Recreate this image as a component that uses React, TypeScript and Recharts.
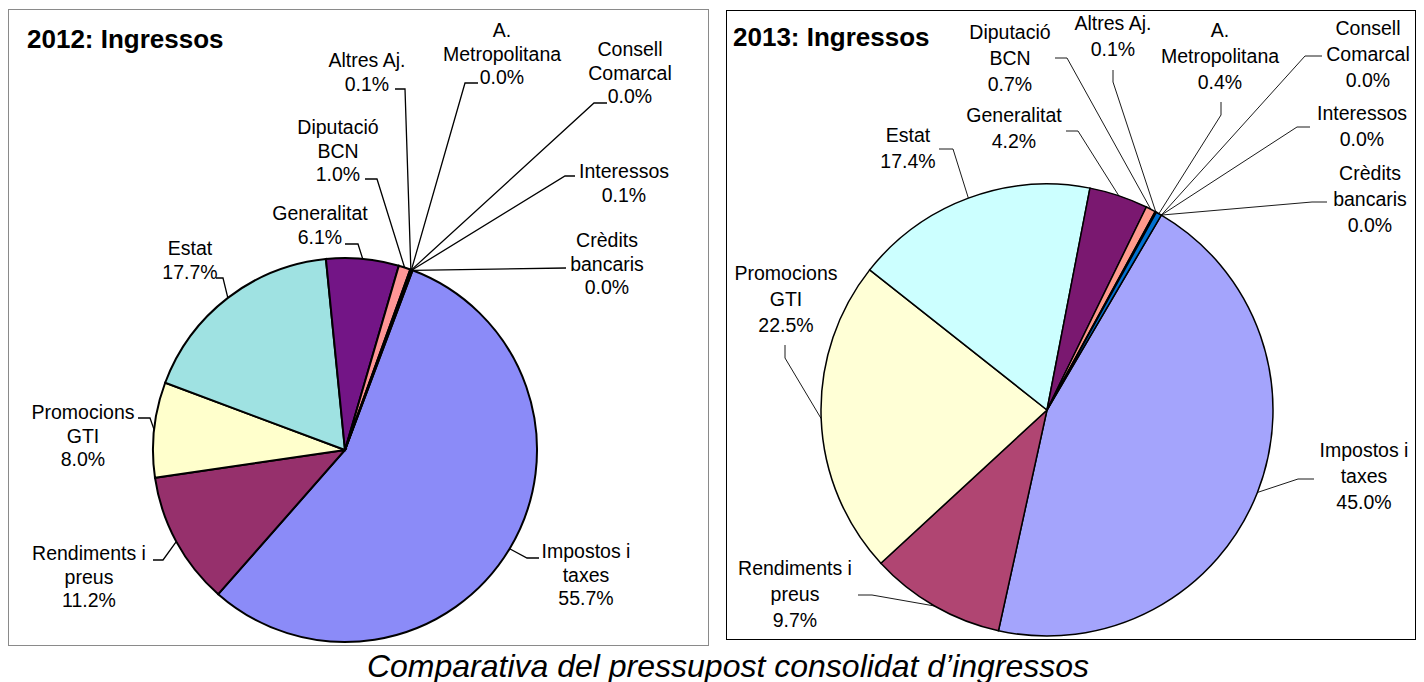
import React from 'react';
import { PieChart, Pie, Cell } from 'recharts';

// ---- Data -------------------------------------------------------------
const categories = [
  'Impostos i taxes',
  'Rendiments i preus',
  'Promocions GTI',
  'Estat',
  'Generalitat',
  'Diputació BCN',
  'Altres Aj.',
  'A. Metropolitana',
  'Consell Comarcal',
  'Interessos',
  'Crèdits bancaris',
];

// How each category name is broken into lines in the labels
const labelLines: string[][] = [
  ['Impostos i', 'taxes'],
  ['Rendiments i', 'preus'],
  ['Promocions', 'GTI'],
  ['Estat'],
  ['Generalitat'],
  ['Diputació', 'BCN'],
  ['Altres Aj.'],
  ['A.', 'Metropolitana'],
  ['Consell', 'Comarcal'],
  ['Interessos'],
  ['Crèdits', 'bancaris'],
];

const values2012 = [55.7, 11.2, 8.0, 17.7, 6.1, 1.0, 0.1, 0.0, 0.0, 0.1, 0.0];
const values2013 = [45.0, 9.7, 22.5, 17.4, 4.2, 0.7, 0.1, 0.4, 0.0, 0.0, 0.0];

const colors2012 = ['#8B8BF8', '#96306C', '#FFFFCC', '#9FE2E2', '#731586', '#FF9696', '#000080', '#0066CC', '#FF8080', '#0000FF', '#00CCFF'];
const colors2013 = ['#A4A4FC', '#B04572', '#FFFFD6', '#CCFFFF', '#7A1870', '#FF9A8C', '#000080', '#0070D0', '#FF8080', '#0000FF', '#00CCFF'];

const data2012 = categories.map((name, i) => ({ name, value: values2012[i] }));
const data2013 = categories.map((name, i) => ({ name, value: values2013[i] }));

// ---- Label layout (manually placed labels, as in the original) ----------
type LabelPos = { tx: number; ty: number; knee: [number, number]; end: [number, number] };

const layout2012: LabelPos[] = [
  { tx: 586, ty: 551, knee: [527, 558], end: [539, 558] },
  { tx: 89, ty: 553, knee: [163, 560], end: [153, 560] },
  { tx: 83, ty: 412, knee: [150, 418], end: [138, 418] },
  { tx: 190, ty: 248, knee: [223, 278], end: [216, 278] },
  { tx: 320, ty: 213, knee: [358, 244], end: [345, 244] },
  { tx: 338, ty: 127, knee: [377, 179], end: [365, 179] },
  { tx: 367, ty: 60, knee: [405, 89], end: [395, 89] },
  { tx: 502, ty: 30, knee: [465, 83], end: [478, 83] },
  { tx: 630, ty: 49, knee: [594, 103], end: [607, 103] },
  { tx: 624, ty: 171, knee: [565, 176], end: [575, 176] },
  { tx: 607, ty: 240, knee: [566, 268], end: [566, 268] },
];

const layout2013: LabelPos[] = [
  { tx: 1364, ty: 450, knee: [1298, 479], end: [1314, 479] },
  { tx: 795, ty: 568, knee: [872, 595], end: [858, 595] },
  { tx: 786, ty: 273, knee: [785, 358], end: [785, 345] },
  { tx: 908, ty: 135, knee: [953, 149], end: [939, 149] },
  { tx: 1014, ty: 115, knee: [1078, 131], end: [1066, 131] },
  { tx: 1010, ty: 32, knee: [1067, 58], end: [1055, 58] },
  { tx: 1113, ty: 23, knee: [1113, 82], end: [1113, 70] },
  { tx: 1220, ty: 30, knee: [1221, 115], end: [1221, 102] },
  { tx: 1368, ty: 28, knee: [1305, 56], end: [1322, 56] },
  { tx: 1362, ty: 113, knee: [1297, 127], end: [1310, 127] },
  { tx: 1370, ty: 173, knee: [1312, 202], end: [1327, 202] },
];

const FONT = '"Liberation Sans", Arial, Helvetica, sans-serif';

const makeLabel = (layout: LabelPos[], lineGap: number, fontSize: number, lineWidth: number) => (props: any) => {
  const { cx, cy, midAngle, outerRadius, index, value } = props;
  const L = layout[index];
  if (!L) return null;
  const rad = (-midAngle * Math.PI) / 180;
  const sx = cx + outerRadius * Math.cos(rad);
  const sy = cy + outerRadius * Math.sin(rad);
  const lines = [...labelLines[index], `${Number(value).toFixed(1)}%`];
  return (
    <g>
      <polyline
        points={`${sx},${sy} ${L.knee[0]},${L.knee[1]} ${L.end[0]},${L.end[1]}`}
        fill="none"
        stroke="#000"
        strokeWidth={lineWidth}
      />
      <text
        x={L.tx}
        y={L.ty + fontSize * 0.36}
        textAnchor="middle"
        fontSize={fontSize}
        fontFamily={FONT}
        fill="#000"
      >
        {lines.map((t, k) => (
          <tspan key={k} x={L.tx} dy={k === 0 ? 0 : lineGap}>
            {t}
          </tspan>
        ))}
      </text>
    </g>
  );
};

export default function App() {
  return (
    <div
      style={{
        position: 'absolute',
        left: 0,
        top: 0,
        width: 1424,
        height: 682,
        background: '#fff',
        fontFamily: FONT,
      }}
    >
      {/* frames */}
      <div
        style={{
          position: 'absolute',
          left: 8,
          top: 9,
          width: 701,
          height: 637,
          border: '1px solid #8a8a8a',
          boxSizing: 'border-box',
        }}
      />
      <div
        style={{
          position: 'absolute',
          left: 726,
          top: 10,
          width: 690,
          height: 630,
          border: '1.5px solid #000',
          boxSizing: 'border-box',
        }}
      />
      {/* titles */}
      <div
        style={{
          position: 'absolute',
          left: 27,
          top: 26,
          fontSize: 26,
          lineHeight: '26px',
          fontWeight: 'bold',
          whiteSpace: 'nowrap',
        }}
      >
        2012: Ingressos
      </div>
      <div
        style={{
          position: 'absolute',
          left: 733,
          top: 24,
          fontSize: 26,
          lineHeight: '26px',
          fontWeight: 'bold',
          whiteSpace: 'nowrap',
        }}
      >
        2013: Ingressos
      </div>
      {/* caption */}
      <div
        style={{
          position: 'absolute',
          left: 228,
          top: 650,
          width: 1000,
          textAlign: 'center',
          fontSize: 32,
          lineHeight: '32px',
          fontStyle: 'italic',
          whiteSpace: 'nowrap',
        }}
      >
        Comparativa del pressupost consolidat d’ingressos
      </div>

      <div style={{ position: 'absolute', left: 0, top: 0 }}>
        <PieChart width={1424} height={682} margin={{ top: 0, right: 0, bottom: 0, left: 0 }}>
          <Pie
            data={data2012}
            dataKey="value"
            nameKey="name"
            cx={345}
            cy={450}
            outerRadius={192}
            startAngle={69.4}
            endAngle={-290.6}
            stroke="#000"
            strokeWidth={2}
            isAnimationActive={false}
            labelLine={false}
            label={makeLabel(layout2012, 23.5, 19.5, 1.3)}
          >
            {data2012.map((d, i) => (
              <Cell key={d.name} fill={colors2012[i]} />
            ))}
          </Pie>
          <Pie
            data={data2013}
            dataKey="value"
            nameKey="name"
            cx={1047}
            cy={410}
            outerRadius={226}
            startAngle={59.6}
            endAngle={-300.4}
            stroke="#000"
            strokeWidth={1.5}
            isAnimationActive={false}
            labelLine={false}
            label={makeLabel(layout2013, 26, 19.5, 0.9)}
          >
            {data2013.map((d, i) => (
              <Cell key={d.name} fill={colors2013[i]} />
            ))}
          </Pie>
        </PieChart>
      </div>
    </div>
  );
}
